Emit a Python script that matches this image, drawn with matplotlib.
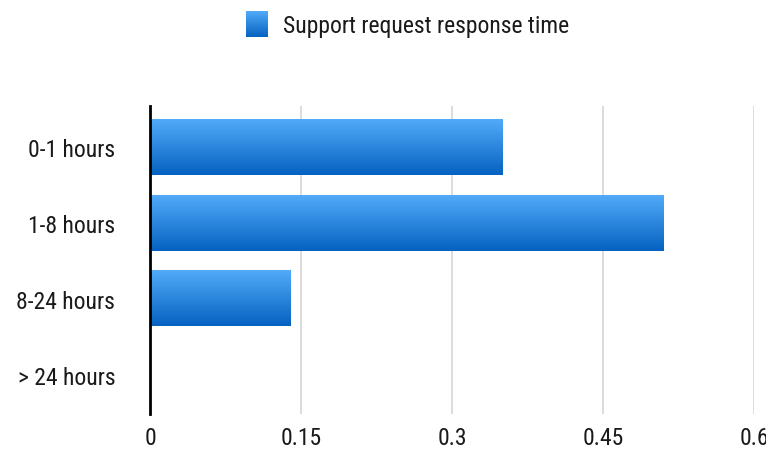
import numpy as np
import matplotlib
matplotlib.use("Agg")
import matplotlib.pyplot as plt
from matplotlib import font_manager

# ==========================================================
# Data
# ==========================================================
categories = ["0-1 hours", "1-8 hours", "8-24 hours", "> 24 hours"]
values = [0.35, 0.51, 0.14, 0.0]
x_ticks = [0, 0.15, 0.3, 0.45, 0.6]
x_tick_labels = ["0", "0.15", "0.3", "0.45", "0.6"]
series_name = "Support request response time"

# ==========================================================
# Font
# ==========================================================
names = {f.name for f in font_manager.fontManager.ttflist}
family = "DejaVu Sans"
for cand in ["Liberation Sans Narrow", "Roboto Condensed", "Open Sans Condensed", "DejaVu Sans Condensed"]:
    if cand in names:
        family = cand
        break
plt.rcParams["font.family"] = [family, "DejaVu Sans"]
plt.rcParams["font.size"] = 17
plt.rcParams["text.color"] = "#1a1a1a"

top_color = np.array([0x52, 0xaa, 0xf9]) / 255
bot_color = np.array([0x05, 0x62, 0xc0]) / 255
grad = np.linspace(0, 1, 100)[:, None, None]
grad_img = top_color * (1 - grad) + bot_color * grad

# ==========================================================
# Figure
# ==========================================================
W, H = 766, 456
fig = plt.figure(figsize=(W / 100, H / 100), dpi=100)
ax = fig.add_axes([150 / W, 1 - 415 / H, (754 - 150) / W, (415 - 107) / H])

bar_h = 0.73
y_pos = np.arange(len(categories))
for y, v in zip(y_pos, values):
    if v > 0:
        ax.imshow(grad_img, extent=[0, v, y + bar_h / 2, y - bar_h / 2],
                  aspect="auto", interpolation="bilinear", zorder=2)

ax.set_xlim(0, 0.6)
ax.set_ylim(3.52, -0.54)
ax.set_yticks(y_pos)
ax.set_yticklabels(categories)
ax.set_xticks(x_ticks)
ax.set_xticklabels(x_tick_labels)
ax.tick_params(axis="both", length=0, labelsize=17, labelcolor="#1a1a1a")
ax.tick_params(axis="y", pad=25)
ax.tick_params(axis="x", pad=9)

ax.grid(axis="x", color="#d9d9d9", linewidth=1.3, zorder=0)
ax.set_axisbelow(True)
for s in ["top", "right", "bottom"]:
    ax.spines[s].set_visible(False)
ax.spines["left"].set_linewidth(2)
ax.spines["left"].set_color("black")
ax.spines["left"].set_zorder(3)

# Legend
lax = fig.add_axes([246 / W, 1 - 38 / H, 22 / W, 26 / H])
lax.imshow(grad_img, aspect="auto", interpolation="bilinear")
lax.axis("off")
fig.text(283 / W, 1 - 27 / H, series_name, fontsize=17, va="center", ha="left")

fig.savefig("out.png", dpi=100)
